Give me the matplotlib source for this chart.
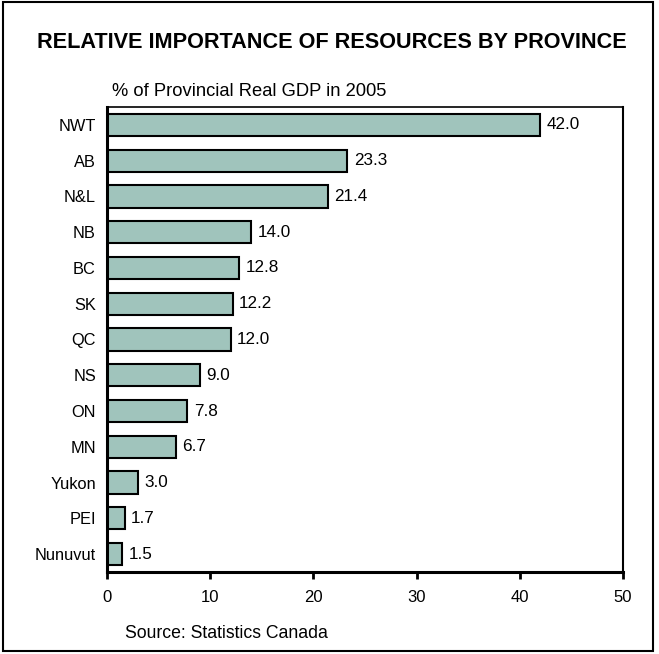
import matplotlib
matplotlib.use('Agg')
import matplotlib.pyplot as plt
from matplotlib.patches import Rectangle

provinces = ['NWT', 'AB', 'N&L', 'NB', 'BC', 'SK', 'QC', 'NS', 'ON', 'MN', 'Yukon', 'PEI', 'Nunuvut']
values = [42.0, 23.3, 21.4, 14.0, 12.8, 12.2, 12.0, 9.0, 7.8, 6.7, 3.0, 1.7, 1.5]
xticks = [0, 10, 20, 30, 40, 50]

plt.rcParams['font.family'] = ['Liberation Sans', 'DejaVu Sans']

fig = plt.figure(figsize=(6.59, 6.54), dpi=100)
ax = fig.add_axes([107 / 659, 1 - 572 / 654, (623 - 107) / 659, (572 - 107) / 654])

pos = list(range(len(provinces)))
ax.barh(pos, values, height=0.62, color='#a0c4bc', edgecolor='black', linewidth=1.5)
for p, v in zip(pos, values):
    ax.text(v + 0.6, p, f'{v:.1f}', va='center', ha='left', fontsize=12.3)

ax.set_ylim(len(provinces) - 0.5, -0.5)
ax.set_xlim(0, 50)
ax.set_yticks(pos)
ax.set_yticklabels(provinces, fontsize=11.8)
ax.set_xticks(xticks)
ax.set_xticklabels([str(t) for t in xticks], fontsize=12)
ax.tick_params(axis='y', length=0, pad=8)
ax.tick_params(axis='x', length=5, width=2, direction='out', pad=8)
ax.spines['left'].set_linewidth(2.2)
ax.spines['bottom'].set_linewidth(2.2)
ax.spines['top'].set_linewidth(1.2)
ax.spines['right'].set_linewidth(1.5)

fig.text(332 / 659, 1 - 42 / 654, 'RELATIVE IMPORTANCE OF RESOURCES BY PROVINCE',
         ha='center', va='center', fontsize=15.6, fontweight='bold')
fig.text(112 / 659, 1 - 91 / 654, '% of Provincial Real GDP in 2005', ha='left', va='center', fontsize=13.2)
fig.text(125 / 659, 1 - 633 / 654, 'Source: Statistics Canada', ha='left', va='center', fontsize=12.7)

fig.patches.append(Rectangle((3 / 659, 3 / 654), 650 / 659, 649 / 654, transform=fig.transFigure,
                             fill=False, edgecolor='black', linewidth=1.5))

fig.savefig('out.png', dpi=100)
